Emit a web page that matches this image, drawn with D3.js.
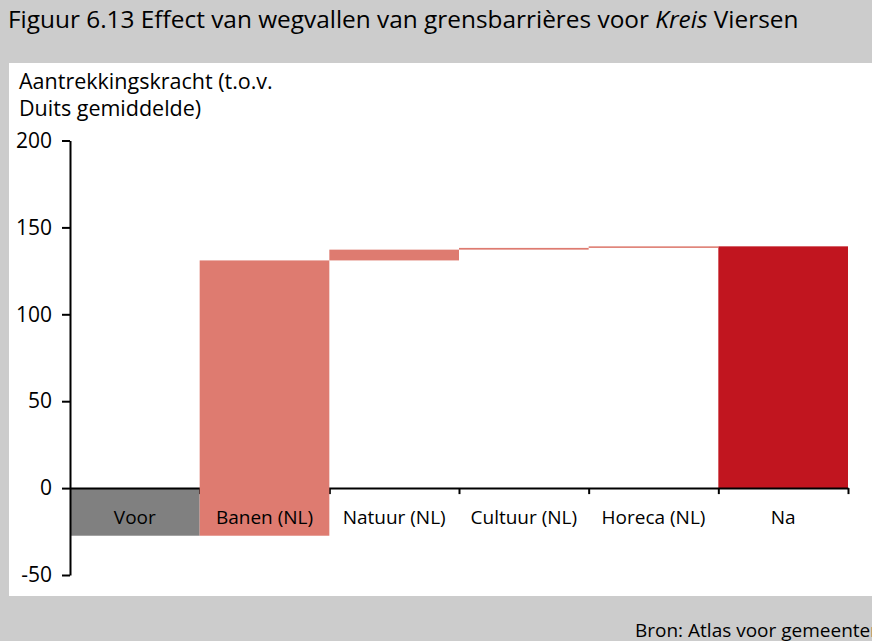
<!DOCTYPE html>
<html>
<head>
<meta charset="utf-8">
<script src="https://cdn.jsdelivr.net/npm/d3@7/dist/d3.min.js"></script>
<style>
  html, body { margin: 0; padding: 0; background: #cccccc; }
  svg { display: block; font-family: "Open Sans", "Noto Sans", sans-serif; }
</style>
</head>
<body>
<svg id="chart" width="872" height="641"></svg>
<script>
// Waterfall: starting level, step effects, final level
const categories = ["Voor", "Banen (NL)", "Natuur (NL)", "Cultuur (NL)", "Horeca (NL)", "Na"];
const startValue = -27.4;
const stepEffects = [158.4, 6.2, 1.0, 0.9];
const yTicks = [-50, 0, 50, 100, 150, 200];

const colStart = "#808080";
const colStep = "#de7b70";
const colEnd = "#c1151f";

// Build bar segments [from, to] for each category
const bars = [];
bars.push({ cat: categories[0], y0: 0, y1: startValue, color: colStart });
let level = startValue;
stepEffects.forEach((d, i) => {
  bars.push({ cat: categories[i + 1], y0: level, y1: level + d, color: colStep });
  level += d;
});
bars.push({ cat: categories[categories.length - 1], y0: 0, y1: level, color: colEnd });

const svg = d3.select("#chart");

// Panels
svg.append("rect").attr("x", 0).attr("y", 0).attr("width", 872).attr("height", 641).attr("fill", "#cccccc");
svg.append("rect").attr("x", 9).attr("y", 63).attr("width", 863).attr("height", 533).attr("fill", "#ffffff");

// Title
const title = svg.append("text").attr("x", 8).attr("y", 28)
  .attr("font-size", 24.4).attr("fill", "#000");
title.append("tspan").text("Figuur 6.13 Effect van wegvallen van grensbarrières voor ");
title.append("tspan").attr("font-style", "italic").text("Kreis");
title.append("tspan").text(" Viersen");

// Y axis title
svg.append("text").attr("x", 19).attr("y", 89).attr("font-size", 21.5).text("Aantrekkingskracht (t.o.v.");
svg.append("text").attr("x", 19).attr("y", 116).attr("font-size", 21.5).text("Duits gemiddelde)");

// Scales
const y = d3.scaleLinear().domain([-50, 200]).range([575, 140.5]);
const x = d3.scaleBand().domain(categories).range([70, 848]).padding(0);
const xEdges = d3.scaleLinear().domain([0, categories.length]).range([70, 848]);

// Bars that sit below the axis line
const under = bars.filter(d => d.cat === "Voor" || d.cat === "Na");
const over = bars.filter(d => !(d.cat === "Voor" || d.cat === "Na"));
function drawBars(sel, data) {
  sel.selectAll("rect").data(data).join("rect")
    .attr("x", d => x(d.cat))
    .attr("width", x.bandwidth())
    .attr("y", d => y(Math.max(d.y0, d.y1)))
    .attr("height", d => Math.abs(y(d.y0) - y(d.y1)))
    .attr("fill", d => d.color);
}
drawBars(svg.append("g"), under);

// X axis at zero with ticks on the category boundaries
const xAxis = svg.append("g").attr("transform", `translate(0,${y(0)})`)
  .call(d3.axisBottom(xEdges).tickValues(d3.range(1, categories.length + 1))
    .tickFormat("").tickSizeInner(6).tickSizeOuter(0));
xAxis.select(".domain").attr("stroke", "#000").attr("stroke-width", 2);
xAxis.selectAll(".tick line").attr("stroke", "#000").attr("stroke-width", 2);

// Step bars cross the axis line
drawBars(svg.append("g"), over);

// Category labels
svg.append("g").selectAll("text").data(categories).join("text")
  .attr("x", d => x(d) + x.bandwidth() / 2)
  .attr("y", 524)
  .attr("text-anchor", "middle")
  .attr("font-size", 19)
  .attr("fill", "#000")
  .text(d => d);

// Y axis
const yAxis = svg.append("g").attr("transform", "translate(70,0)")
  .call(d3.axisLeft(y).tickValues(yTicks).tickFormat(d => String(d))
    .tickSizeInner(8).tickSizeOuter(0).tickPadding(10));
yAxis.select(".domain").attr("stroke", "#000").attr("stroke-width", 2);
yAxis.selectAll(".tick line").attr("stroke", "#000").attr("stroke-width", 2);
yAxis.selectAll(".tick text").attr("font-size", 21).attr("fill", "#000")
  .attr("font-family", "\"Open Sans\", \"Noto Sans\", sans-serif");

// Source
svg.append("text").attr("x", 635).attr("y", 637).attr("font-size", 19).attr("fill", "#000")
  .text("Bron: Atlas voor gemeenten");
</script>
</body>
</html>
